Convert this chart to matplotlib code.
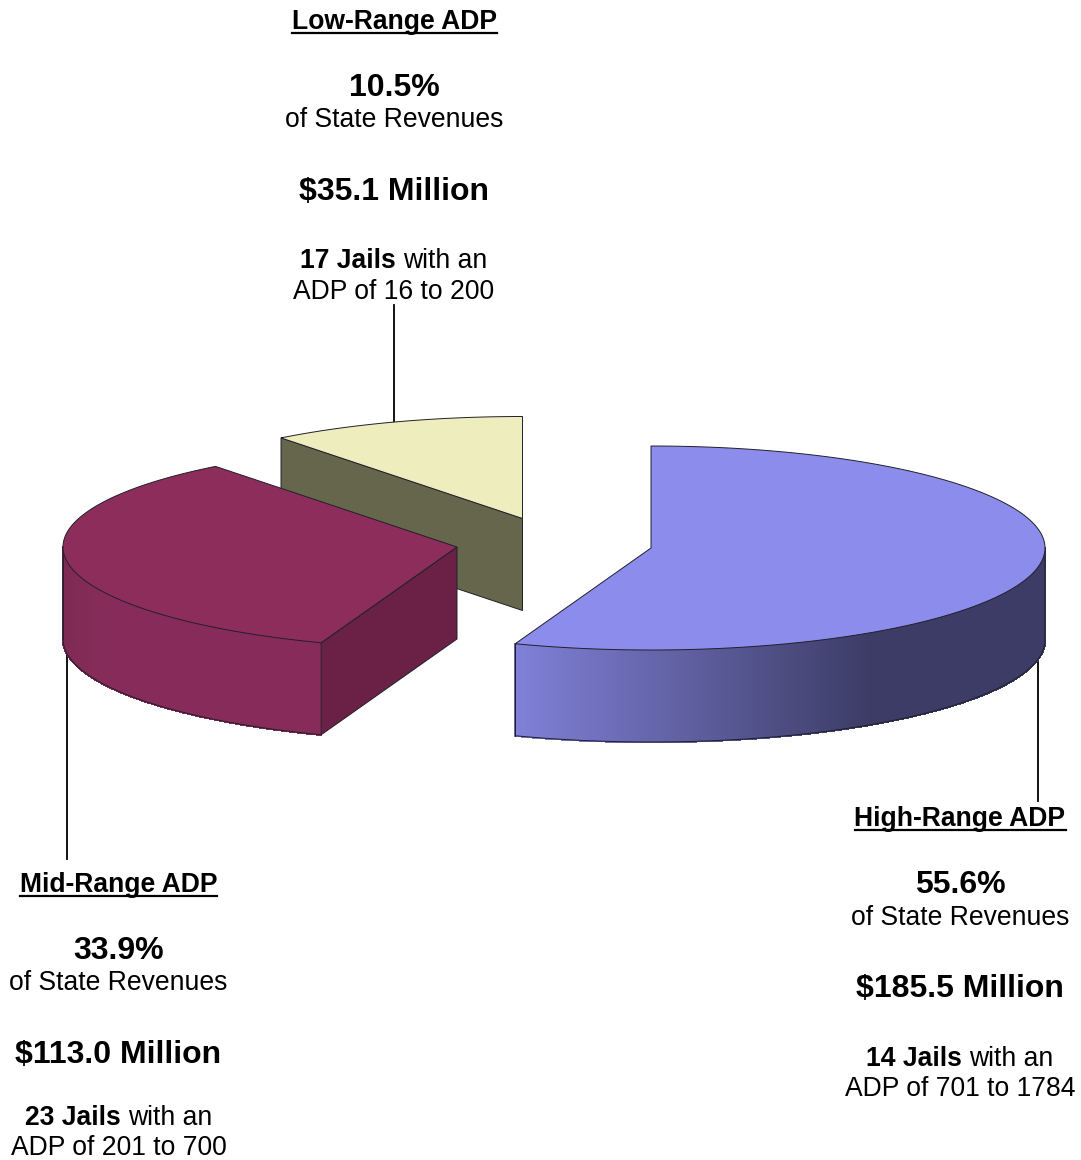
#!/usr/bin/env python
import numpy as np
import matplotlib
matplotlib.use('Agg')
import matplotlib.pyplot as plt
from matplotlib.colors import to_rgb
from matplotlib.patches import Polygon
from matplotlib.collections import PolyCollection

plt.rcParams['font.family'] = ['Liberation Sans', 'DejaVu Sans']

# data
names = ['High-Range ADP', 'Mid-Range ADP', 'Low-Range ADP']
shares = [55.6, 33.9, 10.5]
dollars = ['$185.5 Million', '$113.0 Million', '$35.1 Million']
jails = ['14 Jails', '23 Jails', '17 Jails']
adp_ranges = ['ADP of 701 to 1784', 'ADP of 201 to 700', 'ADP of 16 to 200']

# layout, in pixels of the picture
centers = [(651, 548), (457, 547), (522.5, 518.5)]
label_x = [960, 118.5, 394]
baselines = [
    [826, 893, 925, 997, 1066, 1096],
    [892, 959, 990, 1063, 1125, 1155],
    [29, 96, 127, 200, 268, 299],
]
leaders = [(1038, 655, 801), (67, 650, 859), (394, 305, 423)]
rx, ry, depth = 394, 102, 92

top_colors = ['#8c8cec', '#8c2d5c', '#ededbd']
cut_colors = ['#46467a', '#6a2145', '#66664c']
rim_left = ['#8080d8', '#7e2a54', '#ededbd']
rim_right = ['#3c3c66', '#872c5a', '#ededbd']
edge = '#20202a'

fig = plt.figure(figsize=(10.81, 11.6), dpi=100)
ax = fig.add_axes([0, 0, 1, 1])
ax.set_xlim(0, 1081)
ax.set_ylim(1160, 0)
ax.axis('off')


def rim_point(c, deg):
    a = np.radians(deg)
    return c[0] + rx * np.sin(a), c[1] - ry * np.cos(a)


# slice angles, clockwise from 12 o'clock
ends = np.cumsum(shares) / sum(shares) * 360
starts = np.concatenate([[0], ends[:-1]])

for x, y0, y1 in leaders:
    ax.plot([x, x], [y0, y1], color='black', lw=1.3, zorder=1)

# low slice goes first, the mid slice covers part of its cut face
for i in [2, 0, 1]:
    c = centers[i]
    z = 2 + [2, 0, 1].index(i)
    th = np.linspace(starts[i], ends[i], 200)
    xs, ys = rim_point(c, th)

    # cut face towards the viewer
    if i == 2 or i == 1:
        p = rim_point(c, starts[i])
        ax.add_patch(Polygon([p, c, (c[0], c[1] + depth), (p[0], p[1] + depth)],
                             fc=cut_colors[i], ec=edge, lw=0.7, zorder=z))

    # outer wall, shaded in thin strips
    vis = np.linspace(max(starts[i], 90), min(ends[i], 270), 260)
    if vis[-1] > vis[0]:
        vx, vy = rim_point(c, vis)
        quads = []
        cols = []
        for k in range(len(vis) - 1):
            quads.append([(vx[k], vy[k]), (vx[k + 1], vy[k + 1]),
                          (vx[k + 1], vy[k + 1] + depth), (vx[k], vy[k] + depth)])
            if i == 0:
                t = np.clip((vx[k] - 516) / (870 - 516), 0, 1)
            else:
                t = np.clip((vx[k] - 63) / 40, 0, 1)
            cols.append(np.array(to_rgb(rim_left[i])) * (1 - t) + np.array(to_rgb(rim_right[i])) * t)
        ax.add_collection(PolyCollection(quads, facecolors=cols, edgecolors=cols, linewidths=1.0,
                                         antialiaseds=False, zorder=z))
        ax.plot(np.r_[vx[0], vx, vx[-1]], np.r_[vy[0], vy + depth, vy[-1]], color=edge, lw=0.7, zorder=z)
        ax.plot([vx[-1], vx[-1]], [vy[-1], vy[-1] + depth], color=edge, lw=0.7, zorder=z)

    # top face
    ax.add_patch(Polygon(np.column_stack([np.r_[c[0], xs], np.r_[c[1], ys]]),
                         fc=top_colors[i], ec=edge, lw=0.7, zorder=z + 0.5))

# labels
fig.canvas.draw()
rend = fig.canvas.get_renderer()
for i in range(3):
    x = label_x[i]
    b = baselines[i]
    t = ax.text(x, b[0], names[i], fontsize=19.1, fontweight='bold', ha='center', va='baseline')
    box = t.get_window_extent(rend)
    ax.plot([box.x0, box.x1], [b[0] + 4, b[0] + 4], color='black', lw=1.6)
    ax.text(x, b[1], '%.1f%%' % shares[i], fontsize=23, fontweight='bold', ha='center', va='baseline')
    ax.text(x, b[2], 'of State Revenues', fontsize=19.1, ha='center', va='baseline')
    ax.text(x, b[3], dollars[i], fontsize=23, fontweight='bold', ha='center', va='baseline')
    # bold then regular on one centred line
    t1 = ax.text(0, b[4], jails[i], fontsize=19.1, fontweight='bold', ha='left', va='baseline')
    t2 = ax.text(0, b[4], 'with an', fontsize=19.1, ha='left', va='baseline')
    w1 = t1.get_window_extent(rend).width
    w2 = t2.get_window_extent(rend).width
    gap = 7
    t1.set_x(x - (w1 + gap + w2) / 2)
    t2.set_x(x - (w1 + gap + w2) / 2 + w1 + gap)
    ax.text(x, b[5], adp_ranges[i], fontsize=19.1, ha='center', va='baseline')

fig.savefig('out.png', dpi=100, facecolor='white')
